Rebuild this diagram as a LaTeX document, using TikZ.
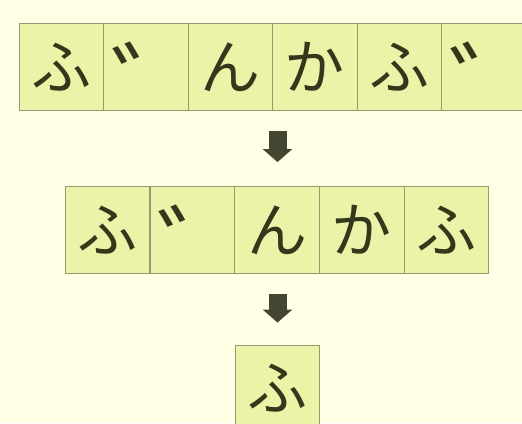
\documentclass[tikz,border=0pt]{standalone}
\usepackage{fontspec}
\newfontfamily\kanafont{Noto Sans CJK JP}
\usetikzlibrary{arrows.meta}
\definecolor{paper}{RGB}{255,255,230}
\definecolor{cellfill}{RGB}{236,242,168}
\definecolor{cellline}{RGB}{150,152,112}
\definecolor{kanaink}{RGB}{52,56,26}
\definecolor{arrowink}{RGB}{68,70,50}
% the voiced mark sits large in the upper left of its own cell
\newcommand{\dakuten}{\makebox[0pt][l]{\hspace*{-34.6pt}\raisebox{-55.5pt}[0pt][0pt]{\fontsize{96}{96}\selectfont ゛}}}
\tikzset{
  kana/.style={draw=cellline, fill=cellfill, line width=0.9pt, minimum width=84.5pt,
    minimum height=87pt, inner sep=0pt, text=kanaink,
    font=\kanafont\fontsize{60}{60}\selectfont},
  downarrow/.style={arrowink, line width=18pt, -{Triangle[width=29pt,length=13pt]}}
}
\begin{document}
\begin{tikzpicture}[x=1pt,y=-1pt]
	\useasboundingbox (0,0) rectangle (522,423);
	\clip (0,0) rectangle (522,423);
	\fill[paper] (0,0) rectangle (522,423);
	% first row
	\foreach \ch [count=\i] in {ふ,\dakuten,ん,か,ふ,\dakuten}
		\node[kana] (a\i) at ({61.25+84.5*(\i-1)},67) {\ch};
	% second row
	\foreach \ch [count=\i] in {ふ,\dakuten,ん,か,ふ}
		\node[kana] (b\i) at ({107.4+84.8*(\i-1)},230) {\ch};
	% third row
	\node[kana] (c1) at (277.5,388.5) {ふ};
	\draw[downarrow, shorten <=20pt, shorten >=24pt] (c1 |- a1.south) -- (c1 |- b1.north);
	\draw[downarrow, shorten <=20pt, shorten >=22pt] (c1 |- b1.south) -- (c1.north);
\end{tikzpicture}
\end{document}
